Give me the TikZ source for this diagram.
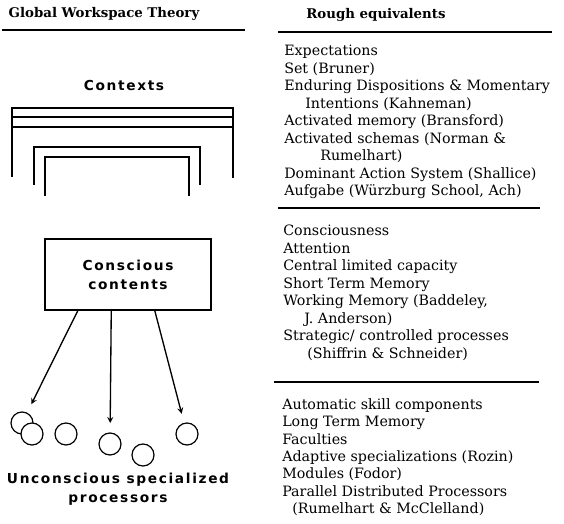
\documentclass[tikz,border=0pt]{standalone}
\usepackage{fontspec}
\setmainfont{DejaVu Serif}
\newfontfamily\gwfont[LetterSpace=12]{DejaVu Sans}
\usetikzlibrary{arrows, calc}
\tikzstyle{heading} = [font=\bfseries\fontsize{10}{12}\selectfont, inner sep=0pt]
\tikzstyle{rule} = [line width=1pt]
\tikzstyle{frame} = [line width=1.1pt]
\tikzstyle{gwtext} = [font=\gwfont\bfseries\fontsize{10.3}{14.25}\selectfont, align=center, inner sep=0pt]
\tikzstyle{items} = [font=\fontsize{10.7}{13.1}\selectfont, align=left, anchor=north west, inner sep=0pt]
\tikzstyle{box} = [rectangle, draw=black, line width=1.1pt, minimum width=124.5pt, minimum height=53.25pt]
\tikzstyle{proc} = [circle, draw=black, fill=white, line width=0.9pt, minimum size=16.5pt, inner sep=0pt]
\tikzstyle{arrow} = [line width=1pt,->,>=stealth, shorten >=7pt]

\begin{document}
\begin{tikzpicture}[x=0.75pt, y=-0.75pt]
\useasboundingbox (0,0) rectangle (564,524);

% Headings
\node (gwt) [heading] at (104,14) {Global Workspace Theory};
\node (rough) [heading] at (376,15) {Rough equivalents};
\draw [rule] (2,30) -- (245,30);
\draw [rule] (278,32) -- (552,32);

% Contexts
\node (ctx) [gwtext] at (124,86) {Contexts};
\draw [frame] (12,177) -- (12,108) -- (233,108) -- (233,178);
\draw [frame] (12,117) -- (233,117);
\draw [frame] (12,127) -- (233,127);
\draw [frame] (34,185) -- (34,147) -- (200,147) -- (200,185);
\draw [frame] (45,196) -- (45,157) -- (189,157) -- (189,196);

% Nodes
\node (cc) [box, gwtext] at (128,274.5) {Conscious\\contents};
\node (u1) [proc] at (22,423) {};
\node (u2) [proc] at (32,434) {};
\node (u3) [proc] at (66,434) {};
\node (u4) [proc] at (110,444) {};
\node (u5) [proc] at (143,455) {};
\node (u6) [proc] at (187,434) {};
\node (ucs) [gwtext] at (118,489.5) {Unconscious specialized\\processors};

% Arrows
\draw [arrow] ($(cc.south west)!0.2!(cc.south east)$) -- (u1);
\draw [arrow] ($(cc.south west)!0.4!(cc.south east)$) -- (u4);
\draw [arrow] ($(cc.south west)!0.66!(cc.south east)$) -- (u6);

% Equivalents
\node (ctxeq) [items] at (284,45) {Expectations\\
Set (Bruner)\\
Enduring Dispositions \& Momentary\\
\hspace*{15.75pt}Intentions (Kahneman)\\
Activated memory (Bransford)\\
Activated schemas (Norman \&\\
\hspace*{27pt}Rumelhart)\\
Dominant Action System (Shallice)\\
Aufgabe (Würzburg School, Ach)};
\draw [rule] (278,208) -- (540,208);

\node (cceq) [items] at (283,225) {Consciousness\\
Attention\\
Central limited capacity\\
Short Term Memory\\
Working Memory (Baddeley,\\
\hspace*{15.75pt}J. Anderson)\\
Strategic/ controlled processes\\
\hspace*{18pt}(Shiffrin \& Schneider)};
\draw [rule] (274,382) -- (539,382);

\node (ucseq) [items] at (282,398) {Automatic skill components\\
Long Term Memory\\
Faculties\\
Adaptive specializations (Rozin)\\
Modules (Fodor)\\
Parallel Distributed Processors\\
\hspace*{7.5pt}(Rumelhart \& McClelland)};

\end{tikzpicture}
\end{document}
